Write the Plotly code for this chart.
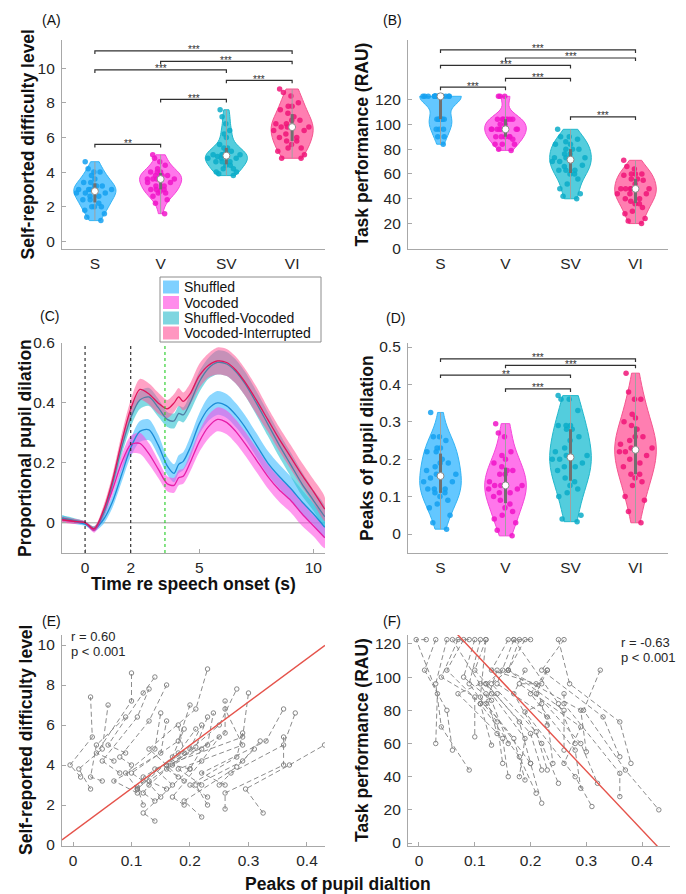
import numpy as np
import plotly.graph_objects as go

# ---------------- data ----------------
conds = ["S", "V", "SV", "VI"]
cond_names = ["Shuffled", "Vocoded", "Shuffled-Vocoded", "Vocoded-Interrupted"]

# self-reported difficulty (per subject)
diff_S = [3.0, 2.8, 1.2, 3.4, 2.0, 4.0, 3.2, 2.6, 1.6, 3.8, 2.4, 3.0, 4.6, 2.2, 3.2,
          2.8, 1.4, 3.6, 2.0, 4.2, 3.0, 2.6, 3.4, 2.4, 1.8, 3.2, 4.0, 2.8, 3.0, 2.0]
diff_V = [3.6, 3.8, 1.6, 4.0, 2.4, 4.8, 3.4, 3.0, 2.8, 4.0, 3.0, 3.6, 5.0, 2.8, 3.8,
          3.6, 2.2, 4.2, 3.0, 4.6, 3.8, 3.2, 4.0, 3.4, 2.6, 3.6, 4.4, 3.2, 3.8, 2.9]
diff_SV = [5.0, 4.8, 3.8, 5.4, 4.2, 6.8, 5.0, 4.6, 4.0, 6.0, 4.4, 5.2, 7.6, 4.6, 5.6,
           4.8, 3.9, 6.4, 4.2, 7.2, 5.0, 4.6, 5.4, 4.8, 4.0, 5.2, 6.2, 4.9, 5.0, 4.4]
diff_VI = [6.6, 7.0, 4.8, 7.4, 5.4, 8.8, 6.4, 6.0, 5.0, 7.8, 5.6, 6.8, 8.4, 5.8, 7.2,
           6.6, 4.8, 7.8, 5.2, 8.6, 6.6, 6.2, 7.6, 6.0, 5.4, 7.0, 8.0, 6.4, 6.8, 5.8]

# task performance (RAU)
perf_S = [122.6, 122.6, 104.2, 122.6, 104.2, 122.6, 122.6, 96.0, 104.2, 122.6, 104.2, 122.6,
          122.6, 90.0, 122.6, 122.6, 84.0, 122.6, 104.2, 122.6, 122.6, 96.0, 122.6, 104.2,
          90.0, 122.6, 122.6, 104.2, 96.0, 122.6]
perf_V = [96.0, 104.2, 84.0, 122.6, 90.0, 104.2, 96.0, 90.0, 80.0, 122.6, 90.0, 104.2,
          122.6, 84.0, 104.2, 96.0, 79.0, 104.2, 90.0, 100.0, 96.0, 90.0, 104.2, 96.0,
          84.0, 104.2, 100.0, 96.0, 96.0, 88.0]
perf_SV = [73.0, 80.0, 48.0, 90.0, 60.0, 96.0, 70.0, 63.0, 44.0, 84.0, 56.0, 76.0, 90.0,
           52.0, 80.0, 73.0, 40.0, 84.0, 60.0, 88.0, 76.0, 63.0, 80.0, 66.0, 42.0, 73.0,
           86.0, 67.0, 70.0, 63.0]
perf_VI = [48.0, 56.0, 24.0, 60.0, 36.0, 71.0, 44.0, 40.0, 20.0, 60.0, 33.0, 52.0, 66.0,
           30.0, 56.0, 48.0, 22.0, 59.0, 36.0, 64.0, 48.0, 40.0, 55.0, 44.0, 28.0, 48.0,
           60.0, 44.0, 48.0, 38.0]

# peaks of pupil dilation
peak_S = [0.25, 0.03, 0.14, 0.013, 0.19, 0.16, 0.05, 0.12, 0.325, 0.20, 0.23, 0.26, 0.09,
          0.14, 0.19, 0.11, 0.22, 0.08, 0.23, 0.07, 0.17, 0.11, 0.18, 0.15, 0.26, 0.12,
          0.10, 0.16, 0.22, 0.12]
peak_V = [0.27, 0.01, 0.12, -0.005, 0.17, 0.13, 0.03, 0.13, 0.295, 0.17, 0.20, 0.22, 0.06,
          0.11, 0.16, 0.09, 0.19, 0.05, 0.21, 0.04, 0.14, 0.07, 0.16, 0.12, 0.26, 0.10,
          0.08, 0.13, 0.18, 0.11]
peak_SV = [0.36, 0.05, 0.20, 0.033, 0.22, 0.21, 0.04, 0.19, 0.37, 0.25, 0.28, 0.33, 0.12,
           0.18, 0.26, 0.14, 0.28, 0.11, 0.29, 0.10, 0.23, 0.15, 0.29, 0.20, 0.36, 0.18,
           0.13, 0.21, 0.29, 0.17]
peak_VI = [0.38, 0.06, 0.22, 0.03, 0.25, 0.23, 0.09, 0.18, 0.43, 0.28, 0.29, 0.36, 0.14,
           0.21, 0.26, 0.15, 0.31, 0.13, 0.32, 0.10, 0.24, 0.16, 0.30, 0.22, 0.36, 0.20,
           0.16, 0.23, 0.26, 0.19]

# pupil time course (mean and SE)
time_s = [-1, -0.5, 0, 0.4, 0.8, 1.2, 1.6, 2.0, 2.4, 2.8, 3.2, 3.6, 3.9, 4.1, 4.3, 4.6,
          5.0, 5.4, 5.8, 6.2, 6.6, 7.0, 7.5, 8.0, 8.5, 9.0, 9.5, 10.0, 10.5]
pupil_S = [0.015, 0.005, -0.005, -0.02, 0.01, 0.07, 0.16, 0.25, 0.305, 0.31, 0.26, 0.19,
           0.165, 0.195, 0.205, 0.25, 0.33, 0.38, 0.40, 0.39, 0.36, 0.32, 0.26, 0.20,
           0.155, 0.115, 0.07, 0.03, -0.015]
pupil_V = [0.01, 0.005, 0.0, -0.025, 0.03, 0.11, 0.20, 0.26, 0.265, 0.23, 0.18, 0.13,
           0.125, 0.15, 0.155, 0.20, 0.27, 0.32, 0.345, 0.335, 0.305, 0.265, 0.21, 0.155,
           0.11, 0.075, 0.03, -0.01, -0.05]
pupil_SV = [0.015, 0.008, 0.0, -0.02, 0.03, 0.13, 0.25, 0.35, 0.41, 0.42, 0.385, 0.345,
            0.34, 0.365, 0.36, 0.40, 0.47, 0.515, 0.535, 0.53, 0.505, 0.465, 0.40, 0.33,
            0.26, 0.195, 0.13, 0.075, 0.02]
pupil_VI = [0.01, 0.005, 0.0, -0.02, 0.04, 0.14, 0.27, 0.38, 0.445, 0.43, 0.40, 0.38,
            0.40, 0.42, 0.405, 0.43, 0.49, 0.525, 0.54, 0.535, 0.51, 0.47, 0.41, 0.345,
            0.28, 0.22, 0.16, 0.105, 0.045]
se_S = [0.01, 0.008, 0.005, 0.008, 0.015, 0.02, 0.025, 0.03, 0.035, 0.035, 0.035, 0.03,
        0.03, 0.03, 0.03, 0.035, 0.035, 0.04, 0.04, 0.04, 0.04, 0.04, 0.04, 0.04, 0.04,
        0.04, 0.04, 0.035, 0.035]
se_V = [0.01, 0.008, 0.005, 0.008, 0.015, 0.02, 0.025, 0.03, 0.035, 0.035, 0.03, 0.025,
        0.025, 0.025, 0.025, 0.03, 0.035, 0.04, 0.04, 0.04, 0.04, 0.04, 0.04, 0.04, 0.04,
        0.04, 0.04, 0.035, 0.035]
se_SV = [0.01, 0.008, 0.005, 0.008, 0.015, 0.02, 0.025, 0.03, 0.03, 0.03, 0.03, 0.025,
         0.025, 0.025, 0.025, 0.03, 0.035, 0.035, 0.04, 0.04, 0.04, 0.04, 0.04, 0.04,
         0.04, 0.04, 0.04, 0.035, 0.035]
se_VI = [0.01, 0.008, 0.005, 0.008, 0.015, 0.02, 0.025, 0.03, 0.035, 0.035, 0.035, 0.03,
         0.03, 0.03, 0.03, 0.035, 0.04, 0.04, 0.045, 0.045, 0.045, 0.045, 0.045, 0.04,
         0.04, 0.04, 0.04, 0.04, 0.04]
events = [0, 2, 3.5]

# significance brackets: (from, to, height, label)
sig_A = [(1, 2, 5.6, "**"), (2, 3, 8.2, "***"), (3, 4, 9.3, "***"),
         (1, 3, 9.9, "***"), (2, 4, 10.4, "***"), (1, 4, 11.0, "***")]
sig_B = [(1, 2, 130, "***"), (2, 3, 137, "***"), (3, 4, 106, "***"),
         (1, 3, 147.5, "***"), (2, 4, 153.5, "***"), (1, 4, 160, "***")]
sig_D = [(1, 4, 0.468, "***"), (2, 4, 0.451, "***"), (1, 3, 0.425, "**"),
         (2, 3, 0.388, "***")]

# repeated-measures fits: (intercept, slope), r, p
fit_E = (0.66, 21.65)
fit_F = (150.3, -356.3)
stats_E = ["r = 0.60", "p < 0.001"]
stats_F = ["r = -0.63", "p < 0.001"]

# ---------------- style ----------------
W, H = 686, 894
FONT = "Liberation Sans, Arial, Helvetica, sans-serif"
fill_cols = ["rgba(60,185,255,0.80)", "rgba(255,80,230,0.78)",
             "rgba(40,192,212,0.80)", "rgba(255,90,155,0.78)"]
edge_cols = ["#33B4F5", "#F545DA", "#22B8CC", "#F5558F"]
pt_cols = ["rgba(20,160,240,0.85)", "rgba(240,20,200,0.85)",
           "rgba(10,172,200,0.85)", "rgba(240,20,120,0.85)"]
band_cols = ["rgba(70,190,255,0.62)", "rgba(255,70,225,0.55)",
             "rgba(50,195,210,0.62)", "rgba(255,85,150,0.55)"]
swatch_cols = ["#7FD0FF", "#FF8CEB", "#7FD6E0", "#FF96C0"]
curve_cols = ["#1C8CD6", "#E61EA8", "#4F7FA6", "#E0145C"]
AXC = "#a8a8a8"
TXC = "#262626"

# panel pixel boxes (left, right, top, bottom) and axis ranges
panels = {
    1: dict(box=(62, 325, 40, 249), xr=[0.5, 4.5], yr=[-0.44, 11.63]),
    2: dict(box=(408, 668, 40, 249), xr=[0.5, 4.5], yr=[-0.5, 168]),
    3: dict(box=(62, 325, 343, 553), xr=[-1.01, 10.51], yr=[-0.101, 0.6]),
    4: dict(box=(408, 668, 343, 553), xr=[0.5, 4.5], yr=[-0.0508, 0.5107]),
    5: dict(box=(62, 325, 635, 846), xr=[-0.0188, 0.4308], yr=[-0.05, 10.5]),
    6: dict(box=(408, 670, 635, 846), xr=[-0.0197, 0.450], yr=[-1.8, 125.4]),
}


def ax_names(k):
    return ("x" if k == 1 else f"x{k}"), ("y" if k == 1 else f"y{k}")


fig = go.Figure()
layout_axes = {}
for k, p in panels.items():
    l, r, t, b = p["box"]
    common = dict(showline=True, linecolor=AXC, linewidth=1.2, ticks="inside",
                  ticklen=4, tickcolor=AXC, showgrid=False, zeroline=False,
                  automargin=False,
                  tickfont=dict(family=FONT, size=15.5, color=TXC), fixedrange=True)
    xa = dict(domain=[l / W, r / W], range=p["xr"], anchor=ax_names(k)[1], **common)
    ya = dict(domain=[1 - b / H, 1 - t / H], range=p["yr"], anchor=ax_names(k)[0],
              ticklabelstandoff=3, **common)
    layout_axes["xaxis" if k == 1 else f"xaxis{k}"] = xa
    layout_axes["yaxis" if k == 1 else f"yaxis{k}"] = ya

for k in (1, 2, 4):
    layout_axes["xaxis" if k == 1 else f"xaxis{k}"].update(tickvals=[1, 2, 3, 4], ticktext=conds, ticks="")
layout_axes["yaxis"].update(tickvals=[0, 2, 4, 6, 8, 10])
layout_axes["yaxis2"].update(tickvals=[0, 20, 40, 60, 80, 100, 120])
layout_axes["yaxis4"].update(tickvals=[0, 0.1, 0.2, 0.3, 0.4, 0.5])
layout_axes["xaxis3"].update(tickvals=[0, 2, 5, 10])
layout_axes["yaxis3"].update(tickvals=[0, 0.2, 0.4, 0.6])
layout_axes["xaxis5"].update(tickvals=[0, 0.1, 0.2, 0.3, 0.4])
layout_axes["yaxis5"].update(tickvals=[0, 2, 4, 6, 8, 10])
layout_axes["xaxis6"].update(tickvals=[0, 0.1, 0.2, 0.3, 0.4])
layout_axes["yaxis6"].update(tickvals=[0, 20, 40, 60, 80, 100, 120])

shapes = []
annotations = []


def add_violins(k, datasets, sig):
    xa, ya = ax_names(k)
    for i, d in enumerate(datasets):
        arr = np.array(d, dtype=float)
        fig.add_trace(go.Violin(
            x=[i + 1] * len(d), y=d, xaxis=xa, yaxis=ya, width=0.64,
            scalemode="width", spanmode="hard", points="all", pointpos=0, jitter=0.9,
            fillcolor=fill_cols[i], line=dict(color=edge_cols[i], width=1),
            marker=dict(color=pt_cols[i], size=5.5, line=dict(width=0)),
            box_visible=False, meanline_visible=False, showlegend=False,
            hoverinfo="y"))
        q1, med, q3 = np.percentile(arr, [25, 50, 75])
        fig.add_trace(go.Scatter(x=[i + 1, i + 1], y=[arr.min(), arr.max()], mode="lines",
                                 line=dict(color="#a0a0a0", width=1), xaxis=xa, yaxis=ya,
                                 showlegend=False, hoverinfo="skip"))
        fig.add_trace(go.Scatter(x=[i + 1, i + 1], y=[q1, q3], mode="lines",
                                 line=dict(color="#707070", width=3), xaxis=xa, yaxis=ya,
                                 showlegend=False, hoverinfo="skip"))
        fig.add_trace(go.Scatter(x=[i + 1], y=[med], mode="markers",
                                 marker=dict(color="white", size=7,
                                             line=dict(color="#8a8a8a", width=1)),
                                 xaxis=xa, yaxis=ya, showlegend=False, hoverinfo="y"))
    p = panels[k]
    l, r, t, b = p["box"]
    dy = 3.0 * (p["yr"][1] - p["yr"][0]) / (b - t)
    for (a, c, h, lab) in sig:
        shapes.append(dict(type="path", xref=xa, yref=ya,
                           path=f"M {a},{h - dy} L {a},{h} L {c},{h} L {c},{h - dy}",
                           line=dict(color="#303030", width=1.2)))
        annotations.append(dict(x=(a + c) / 2, y=h, xref=xa, yref=ya, text=lab,
                                showarrow=False, yanchor="middle", yshift=1,
                                font=dict(family=FONT, size=10, color="#303030")))


add_violins(1, [diff_S, diff_V, diff_SV, diff_VI], sig_A)
add_violins(2, [perf_S, perf_V, perf_SV, perf_VI], sig_B)
add_violins(4, [peak_S, peak_V, peak_SV, peak_VI], sig_D)

# ---- panel C ----
t_arr = np.array(time_s)
means = [pupil_S, pupil_V, pupil_SV, pupil_VI]
ses = [se_S, se_V, se_SV, se_VI]
shapes.append(dict(type="line", xref="x3 domain", yref="y3", x0=0, x1=1, y0=0, y1=0,
                   line=dict(color="#bdbdbd", width=1.5), layer="below"))
for i in range(4):
    m = np.array(means[i]); s = np.array(ses[i])
    xs = np.concatenate([t_arr, t_arr[::-1]])
    ys = np.concatenate([m + s, (m - s)[::-1]])
    fig.add_trace(go.Scatter(x=xs, y=ys, fill="toself", fillcolor=band_cols[i],
                             line=dict(width=0, shape="spline", smoothing=0.8),
                             mode="lines", name=cond_names[i], xaxis="x3", yaxis="y3",
                             showlegend=False, hoverinfo="skip"))
for i in range(4):
    fig.add_trace(go.Scatter(x=time_s, y=means[i], mode="lines",
                             line=dict(color=curve_cols[i], width=1.3, shape="spline",
                                       smoothing=0.8),
                             xaxis="x3", yaxis="y3", showlegend=False))
ev_cols = ["#222222", "#222222", "#22CC22"]
for e, c in zip(events, ev_cols):
    shapes.append(dict(type="line", xref="x3", yref="y3 domain", x0=e, x1=e, y0=0, y1=1,
                       line=dict(color=c, width=1.1, dash="dot")))

# manual legend box for panel C
LG = dict(l=160, r=321, t=277, b=342)
shapes.append(dict(type="rect", xref="paper", yref="paper", x0=LG["l"] / W, x1=LG["r"] / W,
                   y0=1 - LG["b"] / H, y1=1 - LG["t"] / H, fillcolor="white",
                   line=dict(color="#8c8c8c", width=1)))
row_y = [287, 302.5, 318, 333]
for i, name in enumerate(cond_names):
    yc = row_y[i]
    shapes.append(dict(type="rect", xref="paper", yref="paper", x0=163 / W, x1=179 / W,
                       y0=1 - (yc + 6.5) / H, y1=1 - (yc - 6.5) / H,
                       fillcolor=swatch_cols[i], line=dict(width=0)))
    annotations.append(dict(x=181.5 / W, y=1 - yc / H, xref="paper", yref="paper",
                            text=name, showarrow=False, xanchor="left", yanchor="middle",
                            font=dict(family=FONT, size=14, color="#111111")))


# ---- panels E, F ----
def add_spaghetti(k, ys_list, fit, stats, stats_pos):
    xa, ya = ax_names(k)
    xs_list = [peak_S, peak_V, peak_SV, peak_VI]
    X, Y = [], []
    for j in range(len(peak_S)):
        for c in range(4):
            X.append(xs_list[c][j]); Y.append(ys_list[c][j])
        X.append(None); Y.append(None)
    fig.add_trace(go.Scatter(x=X, y=Y, mode="lines+markers",
                             line=dict(color="#8c8c8c", width=1, dash="5px,3px"),
                             marker=dict(symbol="circle-open", size=4.5, color="#7a7a7a",
                                         line=dict(width=0.9)),
                             xaxis=xa, yaxis=ya, showlegend=False))
    fx = np.array(panels[k]["xr"])
    fig.add_trace(go.Scatter(x=fx, y=fit[0] + fit[1] * fx, mode="lines",
                             line=dict(color="#E5534B", width=1.4),
                             xaxis=xa, yaxis=ya, showlegend=False, hoverinfo="skip"))
    px, py = stats_pos
    for n, s in enumerate(stats):
        annotations.append(dict(x=px / W, y=1 - (py + 15 * n) / H, xref="paper",
                                yref="paper", text=s, showarrow=False, xanchor="left",
                                yanchor="middle",
                                font=dict(family=FONT, size=13, color=TXC)))


add_spaghetti(5, [diff_S, diff_V, diff_SV, diff_VI], fit_E, stats_E, (69, 636))
add_spaghetti(6, [perf_S, perf_V, perf_SV, perf_VI], fit_F, stats_F, (619, 642))


# ---- titles and labels ----
def pann(text, x, y, size=14, bold=False, angle=0):
    annotations.append(dict(x=x / W, y=1 - y / H, xref="paper", yref="paper",
                            text=f"<b>{text}</b>" if bold else text, showarrow=False,
                            xanchor="center", yanchor="middle", textangle=angle,
                            font=dict(family=FONT, size=size, color="#111111")))


for lab, x, y in [("(A)", 51, 20), ("(B)", 392, 20), ("(C)", 49, 316),
                  ("(D)", 395, 318), ("(E)", 51, 621), ("(F)", 392, 621)]:
    pann(lab, x, y, size=14)

TS = 17.5
pann("Self-reported difficulty level", 27, 144.5, TS, True, -90)
pann("Task performance (RAU)", 361, 144.5, TS, True, -90)
pann("Proportional pupil dilation", 25, 448, TS, True, -90)
pann("Peaks of pupil dilation", 367, 448, TS, True, -90)
pann("Self-reported difficulty level", 26, 740, TS, True, -90)
pann("Task performance (RAU)", 362, 740, TS, True, -90)
pann("Time re speech onset (s)", 193, 584, TS, True)
pann("Peaks of pupil dialtion", 338, 884, TS, True)

fig.update_layout(
    width=W, height=H, margin=dict(l=0, r=0, t=0, b=0, autoexpand=False),
    paper_bgcolor="white", plot_bgcolor="white",
    violinmode="overlay", showlegend=False,
    font=dict(family=FONT, color=TXC),
    shapes=shapes, annotations=annotations,
    **layout_axes,
)

fig.write_html("out.html", config={"displayModeBar": False},
               post_script="document.body.style.margin='0';document.body.style.overflow='hidden';")
